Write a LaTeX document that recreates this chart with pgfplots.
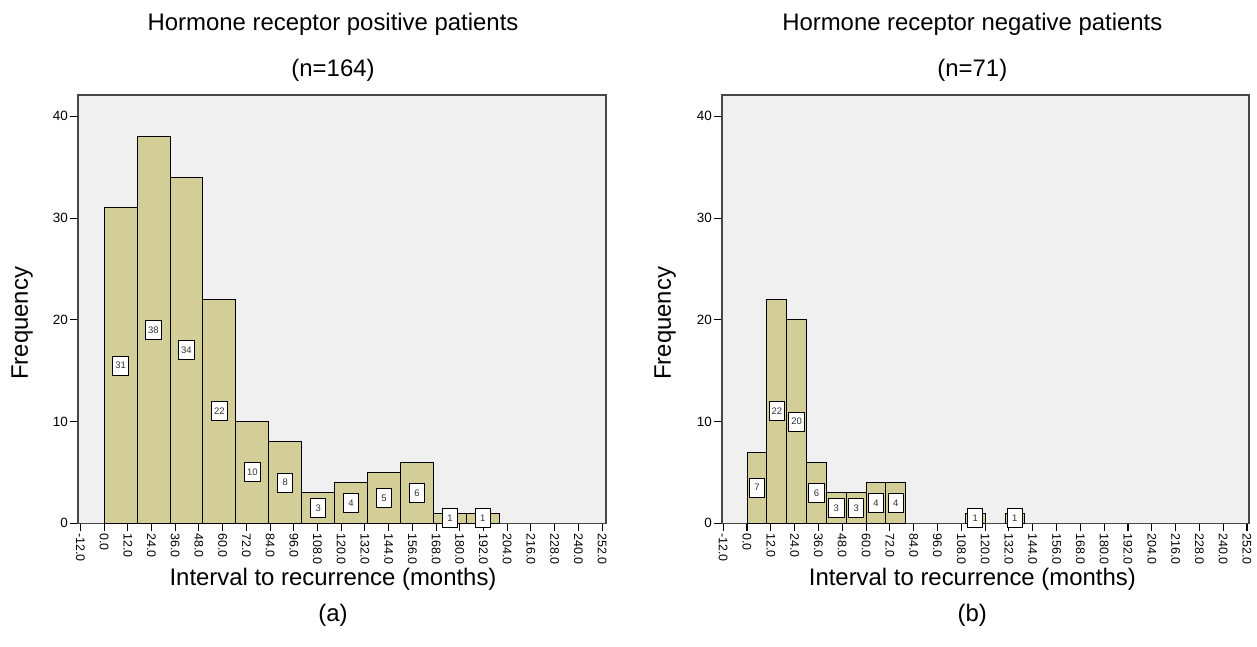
\documentclass[border=0pt]{standalone}
\usepackage{pgfplots}
\pgfplotsset{compat=1.18}
\usepackage{fontspec}
\setmainfont{Liberation Sans}
\definecolor{barcol}{RGB}{211,205,152}
\definecolor{bgcol}{RGB}{240,240,240}
\definecolor{framecol}{RGB}{70,70,70}
\newcommand{\bigf}{\fontsize{24}{28}\selectfont}
\pgfplotsset{
  hist/.style={
    scale only axis, width=528bp, height=428.3bp,
    xmin=-13.2, xmax=254, ymin=0, ymax=42.1,
    xtick={-12,0,...,252}, ytick={0,10,20,30,40},
    tick align=outside, xtick pos=left, ytick pos=left,
    major tick length=8bp,
    tick style={black, line width=1.1bp},
    axis line style={framecol, line width=1.1bp},
    axis background/.style={fill=bgcol},
    /pgf/number format/assume math mode=true,
    xticklabel={\pgfmathprintnumber[fixed, fixed zerofill, precision=1]{\tick}},
    xticklabel style={rotate=-90, anchor=west, font=\fontsize{12.5}{14}\selectfont, inner sep=2bp},
    yticklabel style={font=\fontsize{13.5}{15}\selectfont, inner sep=2bp},
    label style={font=\bigf},
    title style={font=\bigf, anchor=center},
    clip=false,
  },
  barst/.style={ybar interval, fill=barcol, draw=black, line width=0.9bp},
  lblst/.style={draw=none, nodes near coords, point meta=explicit symbolic,
    every node near coord/.append style={anchor=center, draw=black, fill=white,
      line width=1bp, inner sep=0pt, minimum width=15.5bp, minimum height=19bp,
      font=\fontsize{9.5}{11}\selectfont, text=black!80}},
}
\begin{document}
\begin{tikzpicture}
\path[use as bounding box] (0,0) rectangle (1257bp,647bp);
% ---------------- (a) ----------------
\begin{axis}[hist, at={(78bp,123.7bp)}, anchor=south west,
  title={Hormone receptor positive patients},
  title style={at={(axis description cs:0.483,1.151)}},
  xlabel={Interval to recurrence (months)},
  xlabel style={at={(axis description cs:0.483,-0.130)}, anchor=center},
  ylabel={Frequency},
  ylabel style={at={(axis description cs:-0.106,0.467)}, anchor=center},
]
\addplot[barst] table {
x y
0 31
16.6667 38
33.3333 34
50 22
66.6667 10
83.3333 8
100 3
116.6667 4
133.3333 5
150 6
166.6667 1
183.3333 1
200 0
};
\addplot[lblst] table[x=x, y expr=\thisrow{v}/2, meta=v] {
x v
8.3333 31
25 38
41.6667 34
58.3333 22
75 10
91.6667 8
108.3333 3
125 4
141.6667 5
158.3333 6
175 1
191.6667 1
};
\node[font=\bigf] at (axis description cs:0.483,1.058) {(n=164)};
\node[font=\bigf] at (axis description cs:0.483,-0.214) {(a)};
\end{axis}
% ---------------- (b) ----------------
\begin{axis}[hist, at={(722bp,123.7bp)}, anchor=south west, width=527bp,
  xmin=-12.6, xmax=253,
  title={Hormone receptor negative patients},
  title style={at={(axis description cs:0.475,1.151)}},
  xlabel={Interval to recurrence (months)},
  xlabel style={at={(axis description cs:0.475,-0.130)}, anchor=center},
  ylabel={Frequency},
  ylabel style={at={(axis description cs:-0.108,0.467)}, anchor=center},
]
\addplot[barst] table {
x y
0 7
10 22
20 20
30 6
40 3
50 3
60 4
70 4
80 0
};
\addplot[barst] table {
x y
110 1
120 0
};
\addplot[barst] table {
x y
130 1
140 0
};
\addplot[lblst] table[x=x, y expr=\thisrow{v}/2, meta=v] {
x v
5 7
15 22
25 20
35 6
45 3
55 3
65 4
75 4
115 1
135 1
};
\node[font=\bigf] at (axis description cs:0.475,1.058) {(n=71)};
\node[font=\bigf] at (axis description cs:0.475,-0.214) {(b)};
\end{axis}
\end{tikzpicture}
\end{document}
